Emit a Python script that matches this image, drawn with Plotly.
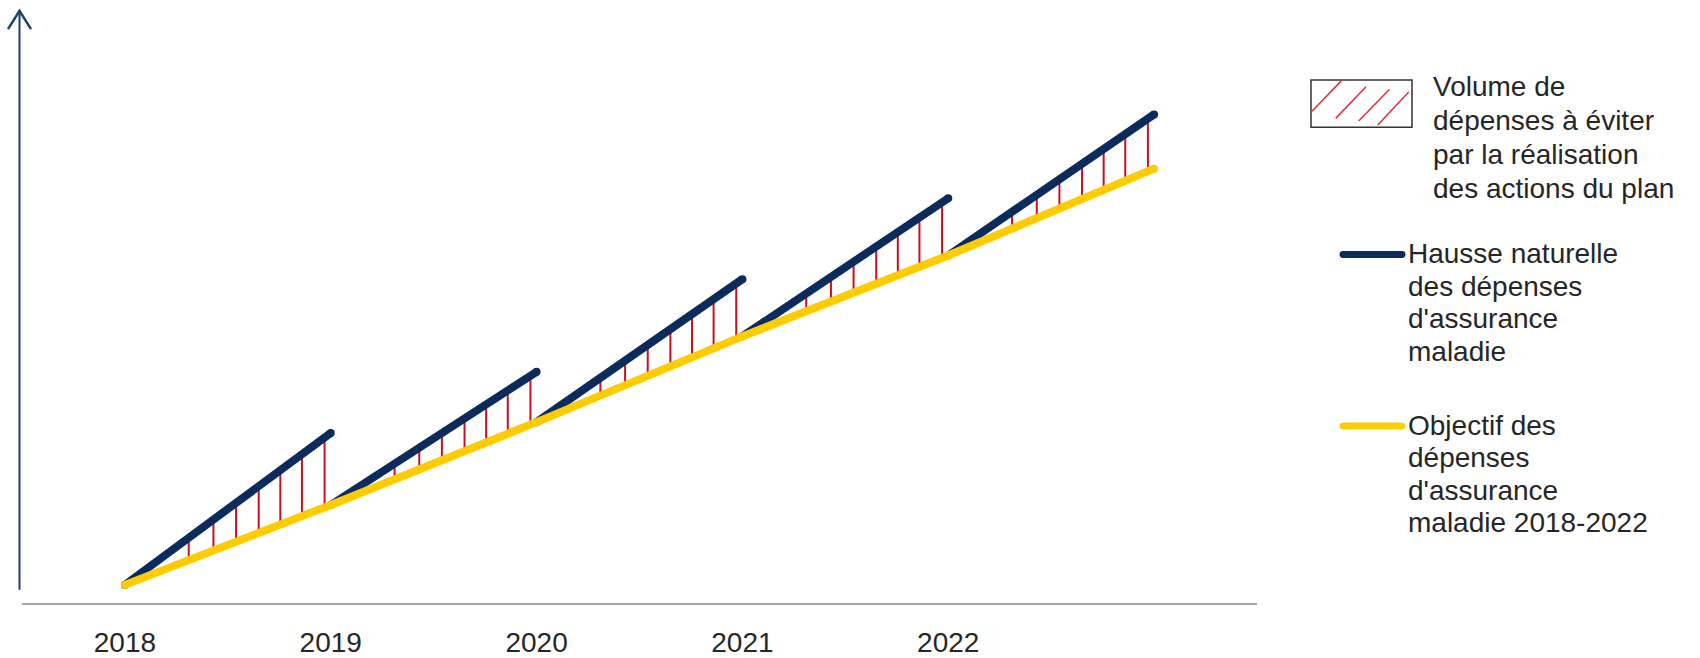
import plotly.graph_objects as go

W, H = 1700, 658

# ---------------- data (arbitrary index units) ----------------
years = [2018, 2019, 2020, 2021, 2022, 2023]
tick_years = [2018, 2019, 2020, 2021, 2022]
tick_labels = ["2018", "2019", "2020", "2021", "2022"]
# Objectif des dépenses d'assurance maladie 2018-2022 (valeur en début de chaque année)
objectif = [18, 99, 183, 270, 352, 440]
# Hausse naturelle : niveau atteint en fin d'année (départ = objectif en début d'année)
hausse_fin = [172, 234, 328, 410, 495]
# positions des hachures dans chaque année (fraction de l'année)
hachures = [0.31, 0.43, 0.54, 0.65, 0.755, 0.86, 0.97]

legend_hatch_lines = ["Volume de", "dépenses à éviter", "par la réalisation",
                      "des actions du plan"]
legend_navy_lines = ["Hausse naturelle", "des dépenses", "d'assurance", "maladie"]
legend_yellow_lines = ["Objectif des", "dépenses", "d'assurance", "maladie 2018-2022"]

# ---------------- styles ----------------
NAVY = "#0B2B5C"
YELLOW = "#FFCC00"
RED = "#C8101E"
AXIS_BLUE = "#1F3F73"
GRAY = "#A6A6A6"
TEXT = "#262626"
FONT = "Liberation Sans, Arial, sans-serif"
FS = 28

fig = go.Figure()

# hatch lines (between the objective and the natural growth)
hx, hy = [], []
for i in range(len(hausse_fin)):
    for f in hachures:
        x = years[i] + f * (years[i + 1] - years[i])
        y_obj = objectif[i] + f * (objectif[i + 1] - objectif[i])
        y_nat = objectif[i] + f * (hausse_fin[i] - objectif[i])
        hx += [x, x, None]
        hy += [y_obj, y_nat, None]
fig.add_trace(go.Scatter(x=hx, y=hy, mode="lines",
                         line=dict(color=RED, width=2), hoverinfo="skip",
                         showlegend=False))

# natural growth segments
bx, by = [], []
for i in range(len(hausse_fin)):
    bx += [years[i], years[i + 1], None]
    by += [objectif[i], hausse_fin[i], None]
fig.add_trace(go.Scatter(x=bx, y=by, mode="lines+markers",
                         line=dict(color=NAVY, width=8),
                         marker=dict(color=NAVY, size=8),
                         showlegend=False))

# objective line
fig.add_trace(go.Scatter(x=years, y=objectif, mode="lines+markers",
                         line=dict(color=YELLOW, width=8),
                         marker=dict(color=YELLOW, size=8),
                         showlegend=False))


def X(px):
    return px / W


def Y(py):
    return 1 - py / H


shapes = []
# y axis with arrow
shapes.append(dict(type="line", xref="paper", yref="paper",
                   x0=X(19.5), x1=X(19.5), y0=Y(598), y1=Y(11),
                   line=dict(color=AXIS_BLUE, width=2)))
shapes.append(dict(type="path", xref="paper", yref="paper",
                   path=f"M {X(8)},{Y(29.5)} L {X(19.5)},{Y(11)} L {X(31)},{Y(29.5)}",
                   line=dict(color=AXIS_BLUE, width=2.5)))

# legend: hatched box
shapes.append(dict(type="rect", xref="paper", yref="paper",
                   x0=X(1311), x1=X(1412), y0=Y(129), y1=Y(81),
                   line=dict(color="#333333", width=1.5), fillcolor="white"))
for (x0, y0, x1, y1) in [(1312, 112.7, 1341.7, 81.5), (1335.7, 120, 1366, 88),
                         (1358.7, 122.7, 1389.3, 90.7), (1377.7, 126.7, 1408.7, 93.3)]:
    shapes.append(dict(type="line", xref="paper", yref="paper",
                       x0=X(x0), x1=X(x1), y0=Y(y0), y1=Y(y1),
                       line=dict(color="#E0303A", width=1.5)))

# legend: line samples
for color, yy in [(NAVY, 258), (YELLOW, 432)]:
    shapes.append(dict(type="line", xref="paper", yref="paper",
                       x0=X(1343), x1=X(1402), y0=Y(yy), y1=Y(yy),
                       line=dict(color=color, width=7)))
    for cx in (1343, 1402):
        shapes.append(dict(type="circle", xref="paper", yref="paper",
                           x0=X(cx - 3.5), x1=X(cx + 3.5), y0=Y(yy + 3.5), y1=Y(yy - 3.5),
                           line=dict(width=0), fillcolor=color))

annotations = []
# (lines, left x, first baseline, line step)
for lines, lx, base, step in [(legend_hatch_lines, 1431, 97, 34.6),
                              (legend_navy_lines, 1406, 267, 33.1),
                              (legend_yellow_lines, 1406, 441, 32.9)]:
    for k, line in enumerate(lines):
        b = base + k * step
        annotations.append(dict(text=line, xref="paper", yref="paper",
                                x=X(lx), y=Y(b - 0.35 * FS), xanchor="left",
                                yanchor="middle", align="left", showarrow=False,
                                font=dict(family=FONT, size=FS, color=TEXT)))

fig.update_layout(
    width=W, height=H,
    margin=dict(l=0, r=0, t=0, b=0),
    paper_bgcolor="white", plot_bgcolor="white",
    showlegend=False,
    xaxis=dict(domain=[22 / W, 1257 / W], range=[2017.5, 2023.5],
               showgrid=False, zeroline=False,
               showline=True, linecolor=GRAY, linewidth=2,
               tickvals=tick_years, ticktext=tick_labels,
               ticks="outside", ticklen=14, tickcolor="rgba(0,0,0,0)",
               tickfont=dict(family=FONT, size=FS, color=TEXT)),
    yaxis=dict(domain=[47 / H, 1], range=[0, 611], visible=False),
    shapes=shapes,
    annotations=annotations,
    font=dict(family=FONT, color=TEXT),
)

fig.write_html("out.html")
